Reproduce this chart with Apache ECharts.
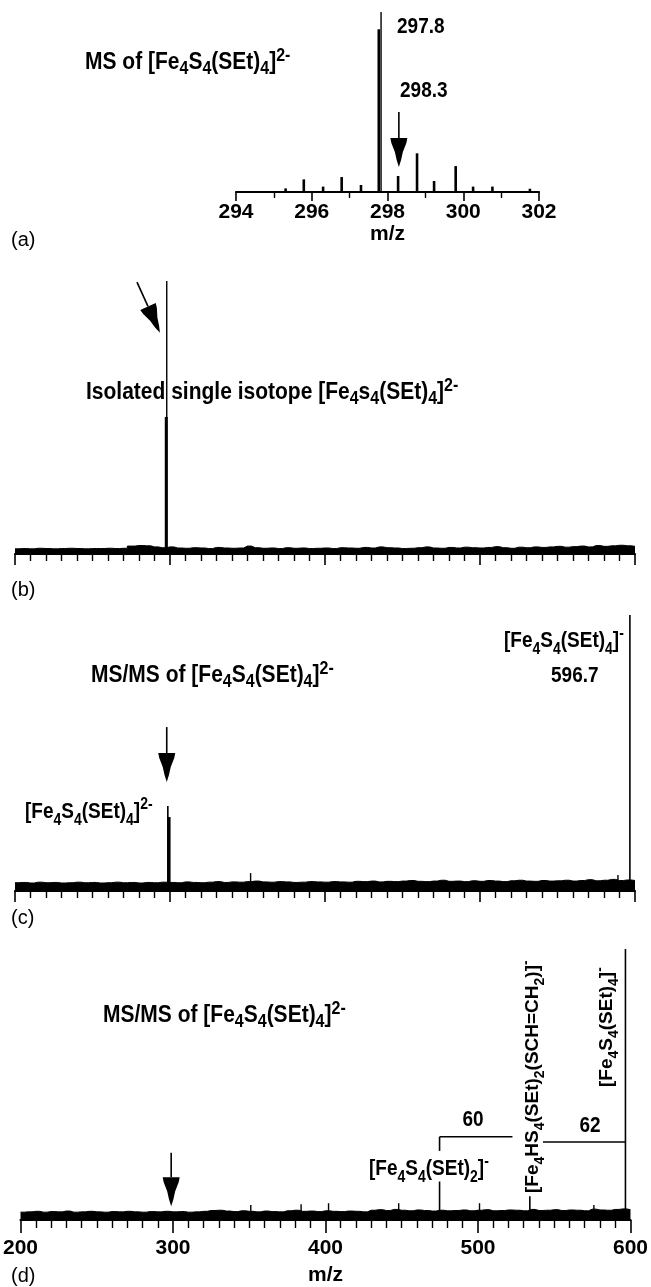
<!DOCTYPE html>
<html><head><meta charset="utf-8">
<script src="https://cdn.jsdelivr.net/npm/echarts@6/dist/echarts.min.js"></script>
<style>html,body{margin:0;padding:0;background:#fff}#c{width:651px;height:1287px}</style>
</head><body><div id="c"></div>
<script>
// ---------------- data ----------------
// panel (a): zoomed MS, m/z 294-302
const axisA = {min: 294, max: 302, interval: 2};
const peaksA = [[295.31,2],[295.79,7],[296.3,3],[296.79,8.3],[297.3,3.9],[297.77,90.4],[298.28,8.9],[298.78,21.5],[299.23,6.1],[299.8,14.4],[300.26,3],[300.77,3],[301.76,1.8]];
const thinA = [[297.83,100]];
const arrowA = [[298.3,44.4,298.3,13.9]];

// panels (b)-(d): m/z 200-600
const axisWide = {min: 200, max: 600, interval: 100};
const noiseMz = [200,205,210,215,220,225,230,235,240,245,250,255,260,265,270,275,280,285,290,295,
  300,305,310,315,320,325,330,335,340,345,350,355,360,365,370,375,380,385,390,395,
  400,405,410,415,420,425,430,435,440,445,450,455,460,465,470,475,480,485,490,495,
  500,505,510,515,520,525,530,535,540,545,550,555,560,565,570,575,580,585,590,595,600];

const noiseB = [1.9,2.0,1.9,2.1,2.0,1.9,2.0,2.1,2.0,1.9,2.0,2.0,2.1,2.0,2.1,2.9,3.1,3.0,2.6,2.3,
  2.6,2.2,2.1,2.3,2.2,2.0,2.4,2.2,2.1,2.2,2.9,2.3,2.1,2.2,2.0,2.3,2.1,2.2,2.0,2.1,
  2.2,2.0,2.3,2.2,2.1,2.4,2.2,2.6,2.3,2.2,2.0,2.1,2.3,2.6,2.2,2.1,2.4,2.2,2.5,2.3,
  2.2,2.4,2.7,2.3,2.1,2.5,2.3,2.6,2.4,2.6,2.8,2.5,2.7,2.9,2.6,3.1,2.8,3.0,3.2,3.0,2.8];
const thinB = [[297.9,100]];
const thickB = [[297.6,50.2]];
const arrowB = [[278.7,99.6,293.5,81]];

const noiseC = [3.0,3.1,2.9,3.2,3.0,3.1,2.9,3.0,3.2,3.0,3.1,2.9,3.0,3.2,3.0,3.1,2.9,3.1,3.0,3.2,
  3.1,3.0,3.3,3.1,3.0,3.2,3.4,3.1,3.3,3.2,3.4,3.6,3.3,3.2,3.4,3.3,3.1,3.2,3.4,3.3,
  3.2,3.4,3.3,3.2,3.5,3.4,3.6,3.3,3.5,3.4,3.6,3.8,3.5,3.4,3.6,3.9,3.5,3.6,3.4,3.7,
  3.5,3.8,3.6,3.4,3.7,3.9,3.6,3.5,3.8,3.6,3.7,3.9,3.6,3.8,4.1,3.7,3.9,4.2,3.8,4.0,3.8];
const thinC = [[298.6,30.8],[596.7,100]];
const thickC = [[299.4,26.8]];
const spikesC = [[352,6.5],[589,5.8]];
const arrowC = [[297.9,59.4,297.9,39.5]];

const noiseD = [2.9,3.0,3.2,2.9,3.1,3.0,3.3,2.9,3.0,3.2,3.0,2.9,3.1,3.0,3.2,3.0,2.9,3.1,3.0,3.2,
  3.0,3.1,2.9,3.0,3.2,3.5,3.6,3.3,3.1,3.4,3.2,3.0,3.3,3.1,3.0,3.4,3.6,3.2,3.3,3.1,
  3.4,3.2,3.1,3.3,3.2,3.0,3.6,3.8,3.5,3.9,3.6,3.4,3.7,3.5,3.3,3.6,3.4,3.5,3.7,3.4,
  3.6,3.8,3.4,3.5,3.7,3.6,3.4,3.9,3.5,3.6,3.8,3.5,3.7,3.6,3.4,4.0,3.7,3.6,3.9,4.1,3.8];
const peaksD = [[474.8,14.2],[534,8.8],[596.7,100]];
const spikesD = [[351,5.5],[384,5.8],[402,6.2],[448,6.2],[501,6.2],[576,5.5]];
const arrowD = [[298.8,24.8,298.8,5.1]];
const bracketsD = [[474.8,25.5,474.8,30.7],[474.8,30.7,522.6,30.7],[542.6,28.8,596.7,28.8]];

// ---------------- rendering ----------------
const FONT = '"Liberation Sans", Arial, Helvetica, sans-serif';
const chart = echarts.init(document.getElementById('c'), null, {renderer: 'canvas'});

function stick(width) {
  return function (params, api) {
    const x = api.value(0), y = api.value(1);
    const p0 = api.coord([x, 0]), p1 = api.coord([x, y]);
    return {type: 'line', shape: {x1: p0[0], y1: p0[1], x2: p1[0], y2: p1[1]},
      style: {stroke: '#000', lineWidth: width}};
  };
}
function segment(params, api) {
  const p0 = api.coord([api.value(0), api.value(1)]);
  const p1 = api.coord([api.value(2), api.value(3)]);
  return {type: 'line', shape: {x1: p0[0], y1: p0[1], x2: p1[0], y2: p1[1]},
    style: {stroke: '#000', lineWidth: 1.6}};
}
function arrow(params, api) {
  const p0 = api.coord([api.value(0), api.value(1)]);
  const p1 = api.coord([api.value(2), api.value(3)]);
  const dx = p1[0] - p0[0], dy = p1[1] - p0[1];
  const L = Math.sqrt(dx * dx + dy * dy);
  const ux = dx / L, uy = dy / L, vx = -uy, vy = ux;
  const H = 29;
  const prof = [[29, 8.5], [24, 7.5], [15, 4], [7, 2.2], [0, 0]];
  const pts = [];
  prof.forEach(function (q) { pts.push([p1[0] - ux * q[0] + vx * q[1], p1[1] - uy * q[0] + vy * q[1]]); });
  for (let i = prof.length - 2; i >= 0; i--) {
    const q = prof[i];
    pts.push([p1[0] - ux * q[0] - vx * q[1], p1[1] - uy * q[0] - vy * q[1]]);
  }
  return {type: 'group', children: [
    {type: 'line', shape: {x1: p0[0], y1: p0[1], x2: p1[0] - ux * H, y2: p1[1] - uy * H},
      style: {stroke: '#000', lineWidth: 1.6}},
    {type: 'polygon', shape: {points: pts}, style: {fill: '#000'}}
  ]};
}

function custom(idx, data, render, enc) {
  return {type: 'custom', coordinateSystem: 'cartesian2d', xAxisIndex: idx, yAxisIndex: idx,
    data: data, renderItem: render, silent: true, animation: false, clip: false,
    encode: enc || {x: 0, y: 1}};
}
function noise(idx, vals) {
  return {type: 'line', xAxisIndex: idx, yAxisIndex: idx, step: 'middle', symbol: 'none',
    data: noiseMz.map(function (m, i) { return [m, vals[i]]; }),
    lineStyle: {color: '#000', width: 1}, areaStyle: {color: '#000', opacity: 1},
    silent: true, animation: false};
}
function xAxis(idx, ax, minor, showLabel, opts) {
  return Object.assign({
    type: 'value', gridIndex: idx, min: ax.min, max: ax.max, interval: ax.interval,
    axisLine: {show: true, onZero: false, lineStyle: {color: '#000', width: 2.2}},
    axisTick: {show: true, length: opts.major, lineStyle: {color: '#000', width: 1.6}},
    minorTick: {show: true, splitNumber: minor, length: opts.minorLen, lineStyle: {color: '#000', width: 1.4}},
    splitLine: {show: false}, minorSplitLine: {show: false},
    axisLabel: {show: showLabel, color: '#000', fontSize: 21, fontWeight: 'bold', fontFamily: FONT, margin: opts.margin || 10},
    nameTextStyle: {color: '#000', fontSize: 21, fontWeight: 'bold', fontFamily: FONT}
  }, opts.extra || {});
}
function yAxis(idx) { return {type: 'value', gridIndex: idx, min: 0, max: 100, show: false}; }

function rich(text, size, weight, x, baseline, align, rot) {
  const sub = Math.round(size * 0.76);
  const bOff = 14 + 0.36 * size;
  const el = {
    type: 'text', x: x, y: baseline - bOff, silent: true,
    style: {
      text: text, fill: '#000', fontSize: size, fontWeight: weight, fontFamily: FONT,
      lineHeight: 28, align: align || 'left', textAlign: align || 'left',
      verticalAlign: 'top', textVerticalAlign: 'top',
      rich: {
        s: {fontSize: sub, fontWeight: weight, fontFamily: FONT, lineHeight: 14, verticalAlign: 'bottom', fill: '#000'},
        p: {fontSize: sub, fontWeight: weight, fontFamily: FONT, lineHeight: 14, verticalAlign: 'top', fill: '#000'}
      }
    }
  };
  if (rot) {
    el.x = x - bOff;
    el.y = baseline;
    el.rotation = Math.PI / 2;
  } else {
    // slight vertical stretch like the reference lettering, anchored on the baseline
    el.originX = 0;
    el.originY = bOff;
    el.scaleY = 1.12;
  }
  return el;
}
function plain(text, x, cy) {
  return {type: 'text', x: x, y: cy, silent: true,
    style: {text: text, fill: '#000', fontSize: 20, fontFamily: FONT, fontWeight: 'normal',
      align: 'left', textAlign: 'left', verticalAlign: 'middle', textVerticalAlign: 'middle'}};
}

const ion4 = '[Fe{s|4}S{s|4}(SEt){s|4}]';
const option = {
  backgroundColor: '#fff',
  animation: false,
  grid: [
    {left: 236, top: 12, width: 303, height: 180},
    {left: 15, top: 281, width: 620, height: 273},
    {left: 15, top: 615, width: 620, height: 276},
    {left: 15, top: 949, width: 620, height: 274}
  ],
  xAxis: [
    xAxis(0, axisA, 2, true, {major: 9, minorLen: 6, margin: 10,
      extra: {name: 'm/z', nameLocation: 'middle', nameGap: 30}}),
    xAxis(1, axisWide, 10, false, {major: 11, minorLen: 7}),
    xAxis(2, axisWide, 10, false, {major: 11, minorLen: 7}),
    xAxis(3, axisWide, 10, true, {major: 13, minorLen: 8, margin: 18,
      extra: {name: 'm/z', nameLocation: 'middle', nameGap: 45}})
  ],
  yAxis: [yAxis(0), yAxis(1), yAxis(2), yAxis(3)],
  series: [
    custom(0, peaksA, stick(2.6)),
    custom(0, thinA, stick(1.4)),
    custom(0, arrowA, arrow, {x: [0, 2], y: [1, 3]}),

    noise(1, noiseB),
    custom(1, thinB, stick(1.4)),
    custom(1, thickB, stick(3)),
    custom(1, arrowB, arrow, {x: [0, 2], y: [1, 3]}),

    noise(2, noiseC),
    custom(2, thinC, stick(1.6)),
    custom(2, thickC, stick(3)),
    custom(2, spikesC, stick(1.4)),
    custom(2, arrowC, arrow, {x: [0, 2], y: [1, 3]}),

    noise(3, noiseD),
    custom(3, peaksD, stick(1.6)),
    custom(3, spikesD, stick(1.4)),
    custom(3, arrowD, arrow, {x: [0, 2], y: [1, 3]}),
    custom(3, bracketsD, segment, {x: [0, 2], y: [1, 3]})
  ],
  graphic: [
    rich('MS of ' + ion4 + '{p|2-}', 21, 'bold', 85, 71),
    rich('297.8', 19, 'bold', 397, 35),
    rich('298.3', 19, 'bold', 400, 99),
    rich('Isolated single isotope [Fe{s|4}s{s|4}(SEt){s|4}]{p|2-}', 21, 'bold', 86, 401),
    rich('MS/MS of ' + ion4 + '{p|2-}', 21, 'bold', 91, 684),
    rich(ion4 + '{p|-}', 19, 'bold', 504, 649),
    rich('596.7', 19, 'bold', 551, 684),
    rich(ion4 + '{p|2-}', 19, 'bold', 25, 820),
    rich('MS/MS of ' + ion4 + '{p|2-}', 21, 'bold', 103, 1024),
    rich('[Fe{s|4}S{s|4}(SEt){s|2}]{p|-}', 19, 'bold', 369, 1177),
    rich('60', 19, 'bold', 473, 1128, 'center'),
    rich('62', 19, 'bold', 590, 1134, 'center'),
    rich('[Fe{s|4}HS{s|4}(SEt){s|2}(SCH=CH{s|2})]{p|-}', 19, 'bold', 540, 1193, 'left', true),
    rich(ion4 + '{p|-}', 19, 'bold', 614, 1087, 'left', true),
    plain('(a)', 11, 240),
    plain('(b)', 11, 590),
    plain('(c)', 11, 918),
    plain('(d)', 11, 1276)
  ]
};
chart.setOption(option);
</script>
</body></html>
